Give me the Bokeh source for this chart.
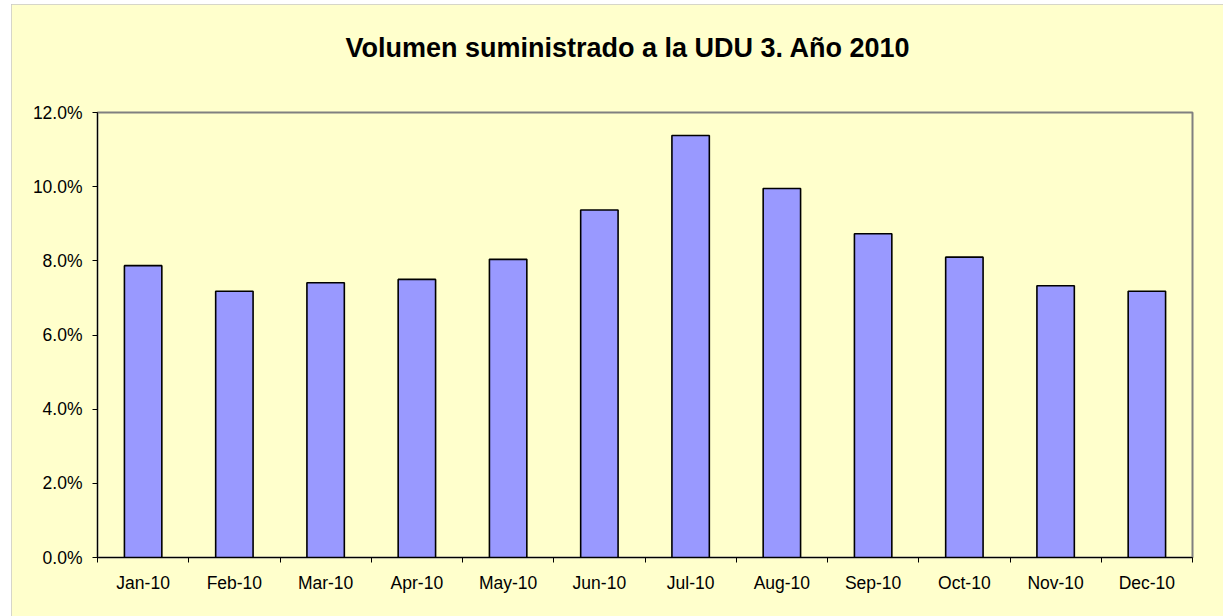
from bokeh.plotting import figure
from bokeh.models import Range1d, FixedTicker, NumeralTickFormatter, ColumnDataSource, Title
from bokeh.embed import file_html
from bokeh.resources import INLINE

# ---- data ----
months = ["Jan-10", "Feb-10", "Mar-10", "Apr-10", "May-10", "Jun-10",
          "Jul-10", "Aug-10", "Sep-10", "Oct-10", "Nov-10", "Dec-10"]
volume_share = [0.0787, 0.0718, 0.0741, 0.0750, 0.0804, 0.0937,
                0.1138, 0.0995, 0.0873, 0.0810, 0.0733, 0.0718]
y_ticks = [0.0, 0.02, 0.04, 0.06, 0.08, 0.10, 0.12]
title_text = "Volumen suministrado a la UDU 3. Año 2010"

centers = [i + 0.5 for i in range(len(months))]
bounds = list(range(len(months) + 1))

src = ColumnDataSource(dict(x=centers, v=volume_share, m=months))

BG = "#FFFFCC"
FONT = "Liberation Sans"

x_range = Range1d(0, len(months))
y_range = Range1d(0, y_ticks[-1])

p = figure(width=1212, height=612,
           x_range=x_range, y_range=y_range,
           output_backend="svg", toolbar_location=None,
           min_border_left=86, min_border_right=31,
           min_border_top=108, min_border_bottom=59)
p.styles = {"margin-left": "11px", "margin-top": "4px",
            "outline": "1px solid #c8c8c8", "outline-offset": "-1px"}

p.background_fill_color = BG
p.border_fill_color = BG
p.outline_line_color = "#808080"
p.outline_line_width = 2
p.grid.visible = False

p.vbar(x="x", top="v", bottom=0, width=0.41, source=src,
       fill_color="#9999FF", line_color="black", line_width=1.6)

# spacer (closest to the frame) and then the real title above it
spacer = Title(text=" ", text_font=FONT, text_font_size="39px", standoff=0)
p.add_layout(spacer, "above")
main_title = Title(text=title_text, align="left", offset=248, standoff=10,
                   text_font=FONT, text_font_style="bold", text_font_size="27px",
                   text_color="black")
p.add_layout(main_title, "above")

# x axis
xa = p.xaxis[0]
xa.ticker = FixedTicker(ticks=centers, minor_ticks=bounds)
xa.major_label_overrides = {c: m for c, m in zip(centers, months)}
xa.major_tick_line_color = None
xa.minor_tick_line_color = "black"
xa.minor_tick_out = 5
xa.minor_tick_in = 0
xa.axis_line_color = "black"
xa.major_label_text_font = FONT
xa.major_label_text_font_size = "17.5px"
xa.major_label_text_color = "black"
xa.major_label_standoff = 9

# y axis
ya = p.yaxis[0]
ya.ticker = FixedTicker(ticks=y_ticks)
ya.formatter = NumeralTickFormatter(format="0.0%")
ya.major_tick_out = 5
ya.major_tick_in = 0
ya.minor_tick_line_color = None
ya.axis_line_color = "black"
ya.major_tick_line_color = "black"
ya.major_label_text_font = FONT
ya.major_label_text_font_size = "17.5px"
ya.major_label_text_color = "black"
ya.major_label_standoff = 10

open("out.html", "w").write(file_html(p, INLINE))
